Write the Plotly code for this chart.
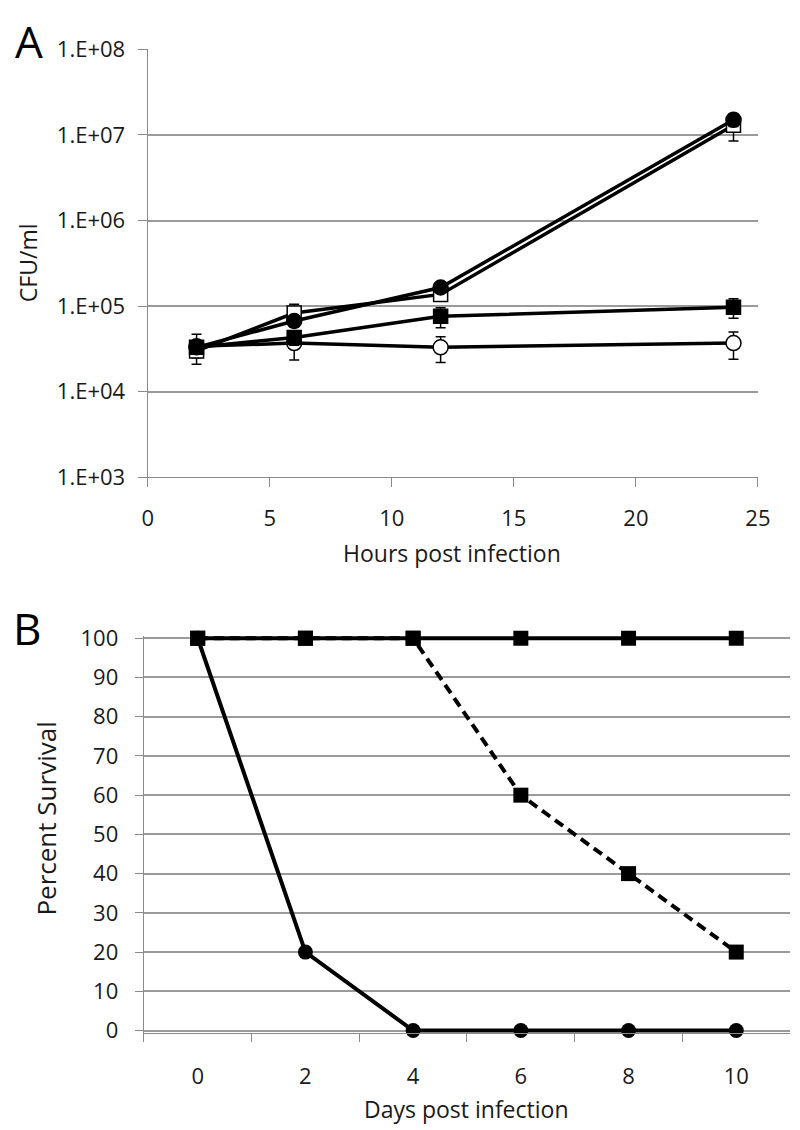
import plotly.graph_objects as go

# ---------------- Panel A data ----------------
hours = [2, 6, 12, 24]
filled_circle = [3.3e4, 6.7e4, 1.65e5, 1.5e7]
filled_circle_err = [5e3, 1.0e4, 1.5e4, 2.5e6]
open_square = [3.0e4, 8.3e4, 1.37e5, 1.3e7]
open_square_err = [5e3, 2.2e4, 1.5e4, 4.5e6]
filled_square = [3.3e4, 4.3e4, 7.6e4, 9.7e4]
filled_square_err = [5e3, 8e3, 2.0e4, 2.5e4]
open_circle = [3.4e4, 3.7e4, 3.3e4, 3.7e4]
open_circle_err = [1.3e4, 1.35e4, 1.1e4, 1.3e4]

a_ytickvals = [1e3, 1e4, 1e5, 1e6, 1e7, 1e8]
a_yticktext = ["1.E+03", "1.E+04", "1.E+05", "1.E+06", "1.E+07", "1.E+08"]
a_xtickvals = [0, 5, 10, 15, 20, 25]

# ---------------- Panel B data ----------------
days = ["0", "2", "4", "6", "8", "10"]
surv_circle = [100, 20, 0, 0, 0, 0]
surv_dashed = [100, 100, 100, 60, 40, 20]
surv_top = [100, 100, 100, 100, 100, 100]
b_ytickvals = [0, 10, 20, 30, 40, 50, 60, 70, 80, 90, 100]

W, H = 800, 1130
FONT = "Open Sans"
GRID = "#9a9a9a"
AXIS = "#8a8a8a"
TXT = "#1a1a1a"


def px(x):
    return x / W


def py(y):
    return 1 - y / H


fig = go.Figure()


def a_trace(y, err, symbol, fill, size):
    fig.add_trace(go.Scatter(
        x=hours, y=y, mode="lines+markers",
        line=dict(color="black", width=3.5),
        marker=dict(symbol=symbol, size=size, color=fill,
                    line=dict(color="black", width=1.5)),
        error_y=dict(type="data", array=err, visible=True,
                     color="black", thickness=1.5, width=5),
        xaxis="x", yaxis="y", showlegend=False, cliponaxis=False,
    ))


a_trace(open_circle, open_circle_err, "circle", "white", 15)
a_trace(open_square, open_square_err, "square", "white", 14)
a_trace(filled_circle, filled_circle_err, "circle", "black", 15)
a_trace(filled_square, filled_square_err, "square", "black", 14)


def b_trace(y, symbol, dash):
    fig.add_trace(go.Scatter(
        x=days, y=y, mode="lines+markers",
        line=dict(color="black", width=4, dash=dash),
        marker=dict(symbol=symbol, size=15, color="black"),
        xaxis="x2", yaxis="y2", showlegend=False, cliponaxis=False,
    ))


b_trace(surv_dashed, "square", "10px,6px")
b_trace(surv_top, "square", "solid")
b_trace(surv_circle, "circle", "solid")

tickfont = dict(family=FONT, size=22, color=TXT)

# panel B: keep 0 at y=1034 px and 100 at y=631 px, with a little headroom
b_pad = 0.6
b_pp = (1034 - 631) / 100.0

fig.update_layout(
    width=W, height=H,
    margin=dict(l=0, r=0, t=0, b=0),
    paper_bgcolor="white", plot_bgcolor="white",
    font=dict(family=FONT, color=TXT),
    xaxis=dict(
        domain=[px(137), px(762)], anchor="y", range=[0, 25],
        tickvals=a_xtickvals, ticks="outside", ticklen=9, tickwidth=1.3,
        tickcolor=AXIS, showline=True, linecolor=AXIS, linewidth=1.3,
        showgrid=False, zeroline=False, tickfont=tickfont,
        ticklabelstandoff=12,
    ),
    yaxis=dict(
        domain=[py(465.7), py(26)], anchor="x", type="log", range=[3, 8],
        tickvals=a_ytickvals, ticktext=a_yticktext, ticks="outside",
        ticklen=9, tickwidth=1.3, tickcolor=AXIS, showline=True,
        linecolor=AXIS, linewidth=1.3, showgrid=True, gridcolor=GRID,
        gridwidth=1.5, zeroline=False, tickfont=tickfont,
        ticklabelstandoff=8,
    ),
    xaxis2=dict(
        domain=[px(133), px(795)], anchor="y2", type="category",
        categoryorder="array", categoryarray=days,
        range=[-0.5, 5.5], tickson="boundaries",
        ticks="outside", ticklen=8, tickwidth=1.3, tickcolor=AXIS,
        showline=True, linecolor=AXIS, linewidth=1.3, showgrid=False,
        zeroline=False, tickfont=tickfont, ticklabelstandoff=24,
    ),
    yaxis2=dict(
        domain=[py(1034 + b_pad * b_pp), py(631 - b_pad * b_pp)],
        anchor="x2", range=[-b_pad, 100 + b_pad],
        tickvals=b_ytickvals, ticks="outside", ticklen=8, tickwidth=1.3,
        tickcolor=AXIS, showline=True, linecolor=AXIS, linewidth=1.3,
        showgrid=True, gridcolor=GRID, gridwidth=1.5, zeroline=False,
        tickfont=tickfont, ticklabelstandoff=12,
    ),
)

annos = [
    dict(text="A", x=px(15), y=py(17), size=44),
    dict(text="B", x=px(13), y=py(620), size=44),
    dict(text="CFU/ml", x=px(15), y=py(245), textangle=-90, size=23),
    dict(text="Hours post infection", x=px(449), y=py(543), size=23),
    dict(text="Percent Survival", x=px(33), y=py(816), textangle=-90, size=26),
    dict(text="Days post infection", x=px(464), y=py(1115), size=23),
]
for a in annos:
    size = a.pop("size")
    color = "black" if a["text"] in ("A", "B") else TXT
    fig.add_annotation(xref="paper", yref="paper", showarrow=False,
                       xanchor="center", yanchor="middle",
                       font=dict(family=FONT, size=size, color=color), **a)

fig.write_html("out.html")
